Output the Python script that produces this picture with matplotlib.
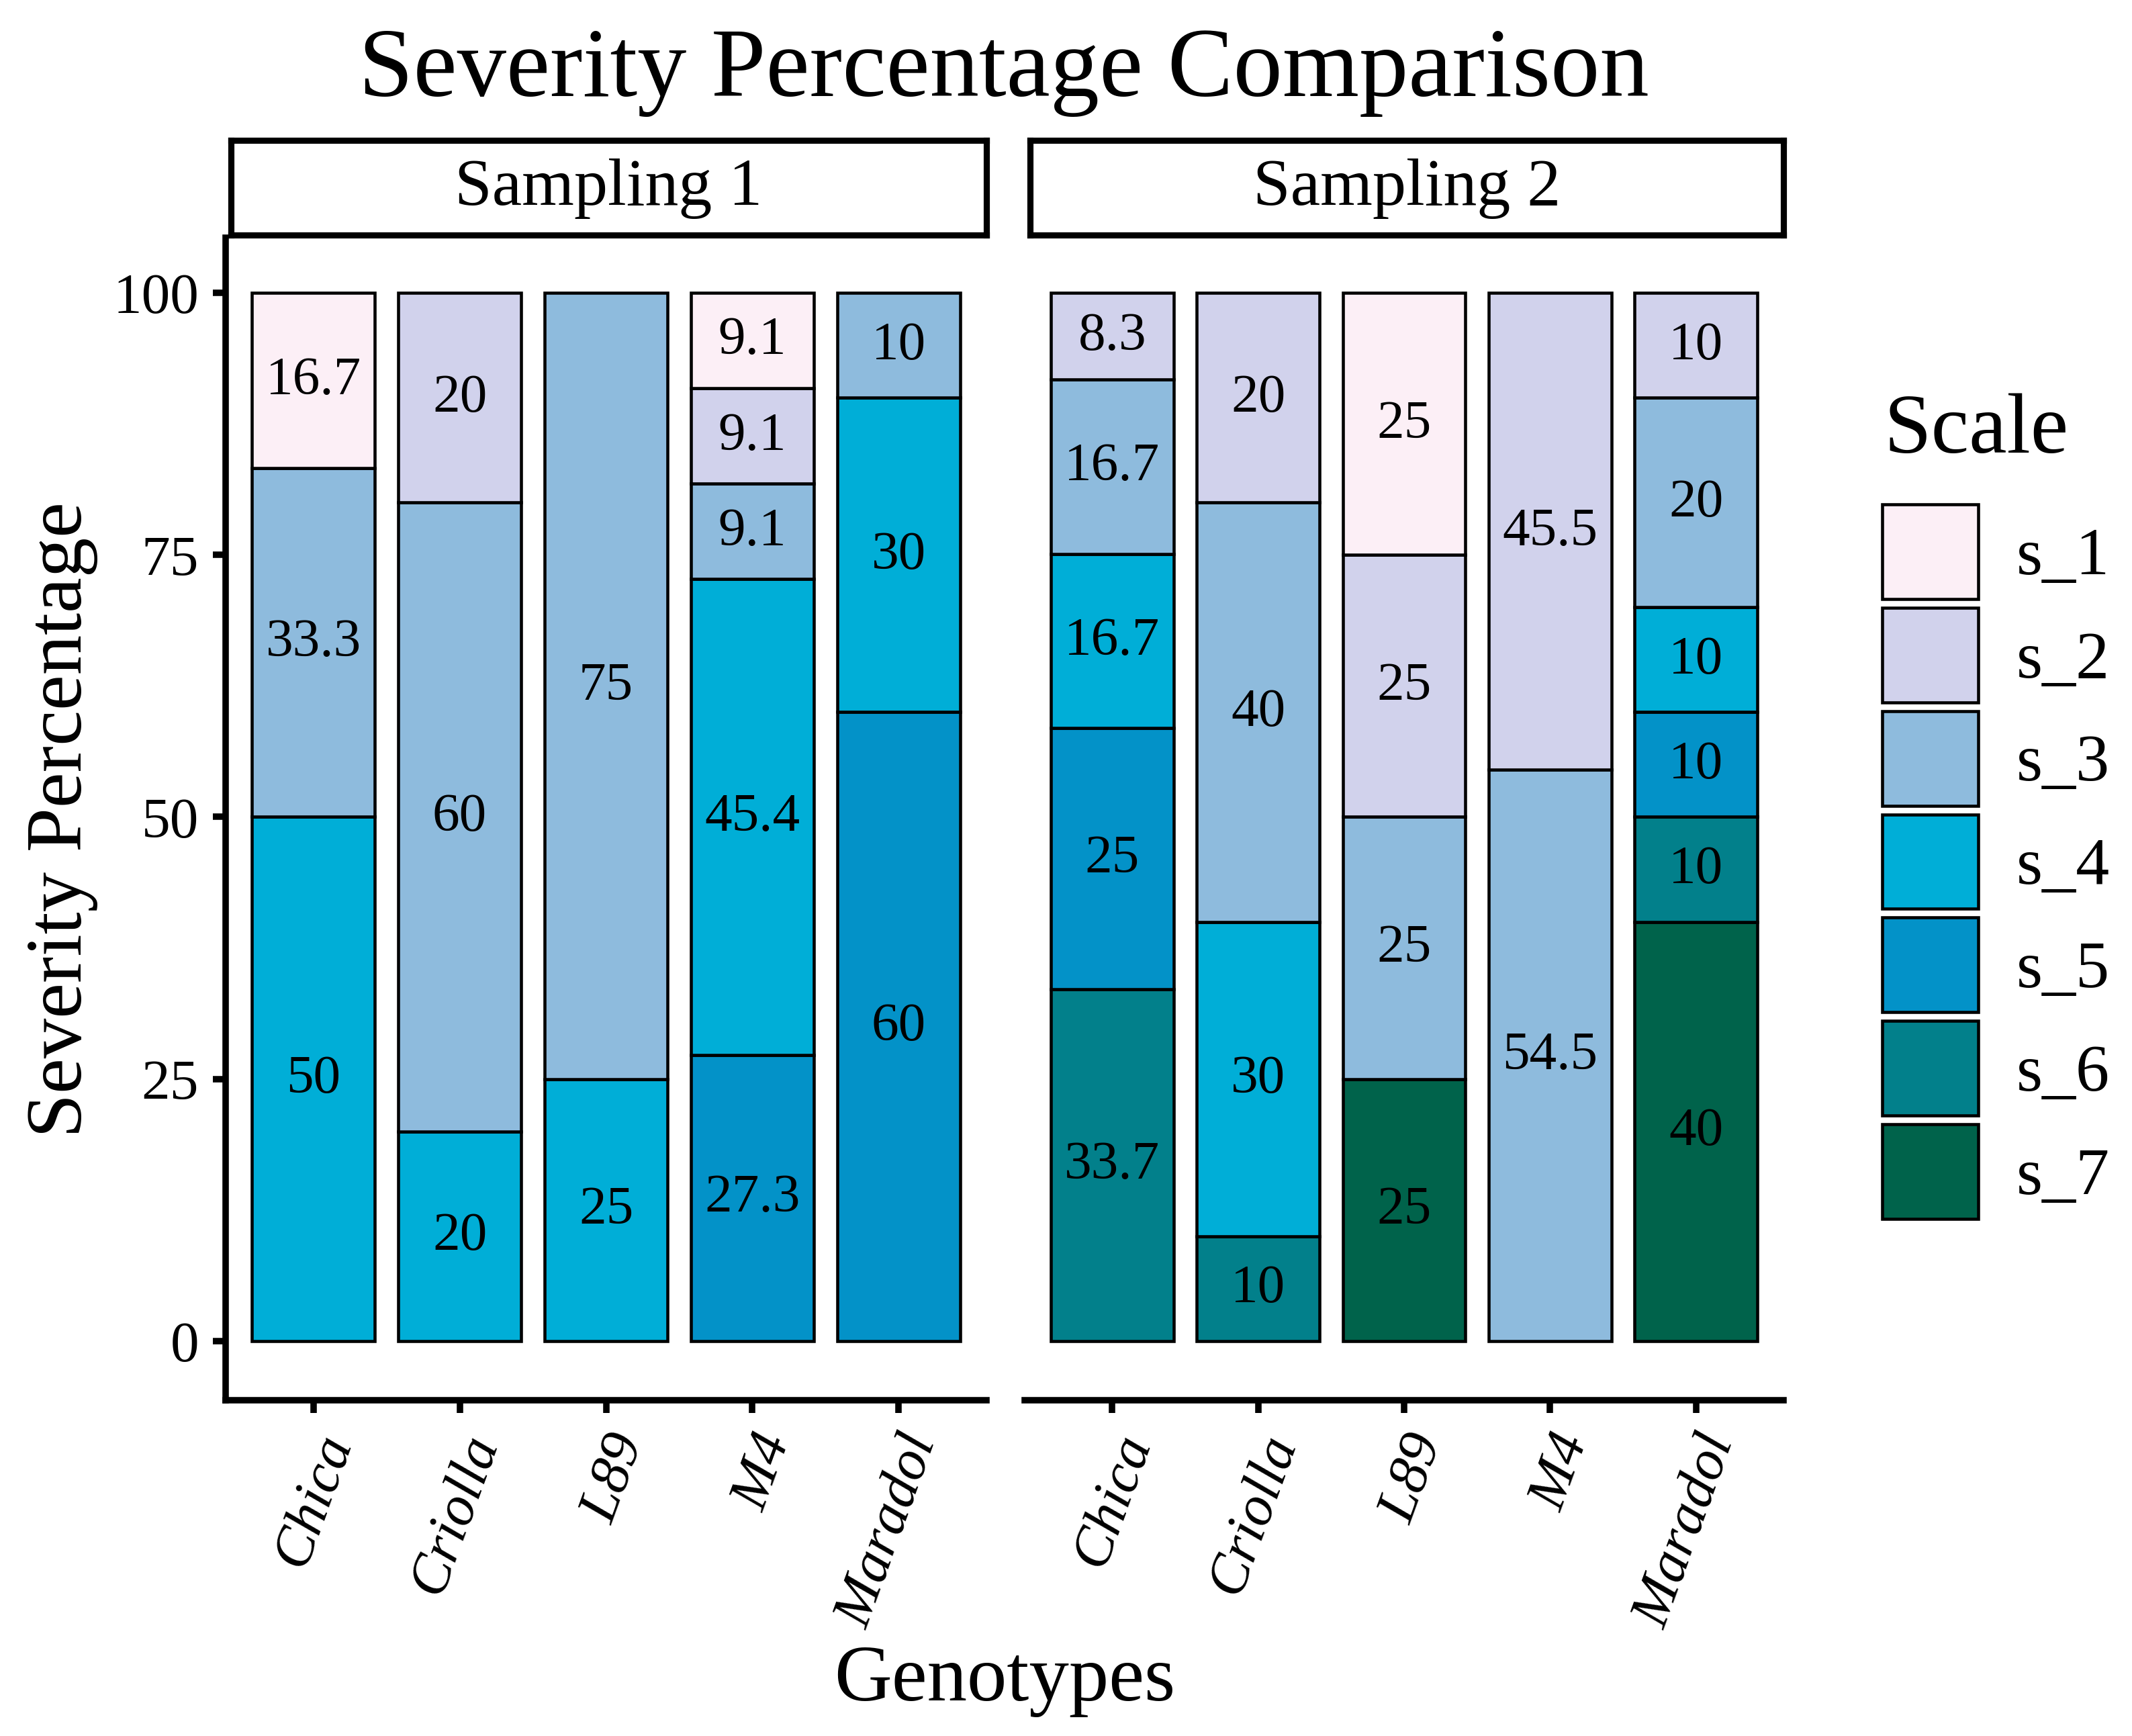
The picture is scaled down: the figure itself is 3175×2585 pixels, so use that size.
import matplotlib
matplotlib.use("Agg")
import matplotlib.pyplot as plt
from matplotlib.patches import Patch

plt.rcParams['font.family'] = ['Liberation Serif', 'DejaVu Serif']

genotypes = ["Chica", "Criolla", "L89", "M4", "Maradol"]
scales = ["s_1", "s_2", "s_3", "s_4", "s_5", "s_6", "s_7"]
scale_colors = ["#FCEFF6", "#D1D2EC", "#8EBBDD", "#00AED7", "#0392C8", "#02808B", "#00634B"]
panels = ["Sampling 1", "Sampling 2"]

# Sampling 1 percentages per scale (order of genotypes)
samp1_s1 = [16.7, 0, 0, 9.1, 0]
samp1_s2 = [0, 20, 0, 9.1, 0]
samp1_s3 = [33.3, 60, 75, 9.1, 10]
samp1_s4 = [50, 20, 25, 45.4, 30]
samp1_s5 = [0, 0, 0, 27.3, 60]
samp1_s6 = [0, 0, 0, 0, 0]
samp1_s7 = [0, 0, 0, 0, 0]

# Sampling 2 percentages per scale
samp2_s1 = [0, 0, 25, 0, 0]
samp2_s2 = [8.3, 20, 25, 45.5, 10]
samp2_s3 = [16.7, 40, 25, 54.5, 20]
samp2_s4 = [16.7, 30, 0, 0, 10]
samp2_s5 = [25, 0, 0, 0, 10]
samp2_s6 = [33.7, 10, 0, 0, 10]
samp2_s7 = [0, 0, 25, 0, 40]

data = {
    "Sampling 1": [samp1_s1, samp1_s2, samp1_s3, samp1_s4, samp1_s5, samp1_s6, samp1_s7],
    "Sampling 2": [samp2_s1, samp2_s2, samp2_s3, samp2_s4, samp2_s5, samp2_s6, samp2_s7],
}
yticks = [0, 25, 50, 75, 100]

W, H = 3175, 2586
fig = plt.figure(figsize=(W / 300, H / 300), dpi=300)

def fx(px):
    return px / W

def fy(py):
    return 1 - py / H

ax_top, ax_bot = 355, 2086
panel_x = [(336, 1469), (1526, 2656)]
strip_top, strip_bot = 210, 351

bar_w = 0.84
edge_lw = 1.1
spine_lw = 2.3

for pi, (name, (x0, x1)) in enumerate(zip(panels, panel_x)):
    ax = fig.add_axes([fx(x0), fy(ax_bot), fx(x1) - fx(x0), fy(ax_top) - fy(ax_bot)])
    xs = list(range(len(genotypes)))
    series = data[name]
    totals = [sum(series[s][i] for s in range(len(scales))) for i in range(len(genotypes))]
    cum = [0.0] * len(genotypes)
    # stacks are filled to 100 % (position = fill); labels show the raw values
    for si in range(len(scales) - 1, -1, -1):
        vals = series[si]
        idx = [i for i, v in enumerate(vals) if v > 0]
        hts = [vals[i] / totals[i] * 100 for i in range(len(genotypes))]
        if idx:
            ax.bar([xs[i] for i in idx], [hts[i] for i in idx],
                   bottom=[cum[i] for i in idx], width=bar_w,
                   color=scale_colors[si], edgecolor="black", linewidth=edge_lw, zorder=2)
            for i in idx:
                ax.text(xs[i], cum[i] + hts[i] / 2, f"{vals[i]:g}", ha="center", va="center",
                        fontsize=19.5, color="black", zorder=3)
        for i in range(len(genotypes)):
            cum[i] += hts[i]
    ax.set_xlim(-0.6, len(genotypes) - 0.4)
    ax.set_ylim(-5.64, 105.25)
    ax.set_xticks(xs)
    ax.set_xticklabels(genotypes, fontsize=20.5, style="italic")
    plt.setp(ax.get_xticklabels(), rotation=70, ha="right", va="top", rotation_mode="anchor")
    ax.tick_params(axis="x", length=4.6, width=spine_lw, pad=5)
    for s in ["top", "right"]:
        ax.spines[s].set_visible(False)
    ax.spines["bottom"].set_linewidth(spine_lw)
    if pi == 0:
        ax.spines["left"].set_linewidth(spine_lw)
        ax.set_yticks(yticks)
        ax.set_yticklabels([str(t) for t in yticks], fontsize=20.5)
        ax.tick_params(axis="y", length=4.6, width=spine_lw, pad=5)
    else:
        ax.spines["left"].set_visible(False)
        ax.set_yticks([])
    # facet strip
    sax = fig.add_axes([fx(x0 + 8), fy(strip_bot), fx(x1) - fx(x0 + 8), fy(strip_top) - fy(strip_bot)])
    sax.set_xticks([])
    sax.set_yticks([])
    for s in sax.spines.values():
        s.set_linewidth(2.2)
    sax.text(0.5, 0.5, name, ha="center", va="center", fontsize=24, transform=sax.transAxes)

fig.text(fx(1495), fy(143), "Severity Percentage Comparison", ha="center", va="baseline", fontsize=35.2)
fig.text(fx(1496), fy(2503), "Genotypes", ha="center", va="center", fontsize=28.5)
fig.text(fx(92), fy(1221), "Severity Percentage", ha="center", va="center", rotation=90, fontsize=28.5)

handles = [Patch(facecolor=c, edgecolor="black", linewidth=edge_lw) for c in scale_colors]
leg = fig.legend(handles, scales, loc="upper left", bbox_to_anchor=(fx(2803), fy(752)),
                 frameon=False, fontsize=24,
                 handlelength=1.43, handleheight=1.79, labelspacing=0.13,
                 handletextpad=0.57, borderpad=0, borderaxespad=0)
fig.text(fx(2805), fy(674), "Scale", ha="left", va="baseline", fontsize=30.5)

fig.savefig("out.png", dpi=300)
